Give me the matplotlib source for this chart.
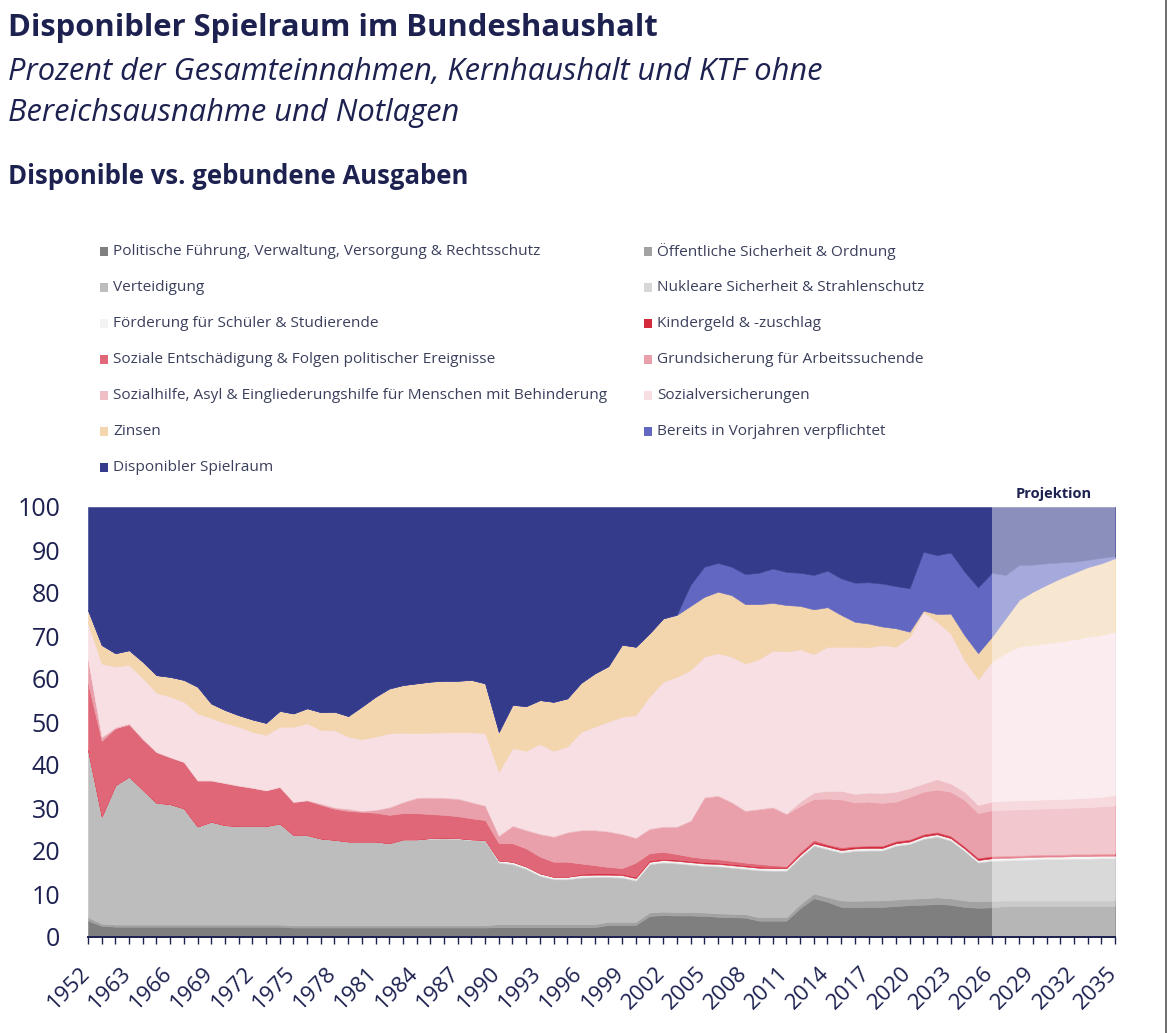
import matplotlib
matplotlib.use("Agg")
import matplotlib.pyplot as plt
import matplotlib.transforms as mtransforms
from matplotlib.patches import Rectangle
from matplotlib.lines import Line2D

plt.rcParams['font.family'] = ['Open Sans', 'DejaVu Sans']

W, H = 1170, 1033
NAVY = '#1d2150'

# categories (first three points: 1952 and two early years, then yearly)
years = ["1952", "1961", "1962"] + [str(y) for y in range(1963, 2036)]

# values in % of total revenue
pol = [3.8, 2.6, 2.4, 2.4, 2.4, 2.4, 2.4, 2.4, 2.4, 2.4,
       2.4, 2.4, 2.4, 2.4, 2.4, 2.2, 2.2, 2.2, 2.2, 2.2,
       2.2, 2.2, 2.2, 2.2, 2.2, 2.2, 2.2, 2.2, 2.2, 2.2,
       2.3, 2.3, 2.3, 2.3, 2.3, 2.3, 2.3, 2.3, 2.8, 2.8,
       2.8, 4.9, 5.1, 5.0, 5.0, 4.9, 4.7, 4.6, 4.5, 3.8,
       3.8, 3.8, 6.7, 9.0, 8.2, 7.0, 6.9, 7.0, 7.0, 7.2,
       7.4, 7.5, 7.7, 7.5, 7.0, 6.8, 6.9, 7.2, 7.2, 7.2,
       7.2, 7.2, 7.2, 7.2, 7.2, 7.2]
oeff = [0.8, 0.5, 0.5, 0.5, 0.5, 0.5, 0.5, 0.5, 0.5, 0.5,
        0.5, 0.5, 0.5, 0.5, 0.5, 0.5, 0.5, 0.5, 0.5, 0.5,
        0.5, 0.5, 0.5, 0.5, 0.5, 0.5, 0.5, 0.5, 0.5, 0.5,
        0.7, 0.7, 0.7, 0.7, 0.7, 0.7, 0.7, 0.7, 0.7, 0.7,
        0.7, 0.8, 0.8, 0.8, 0.8, 0.8, 0.8, 0.8, 0.8, 0.8,
        0.8, 0.8, 0.9, 1.1, 1.1, 1.5, 1.5, 1.5, 1.5, 1.5,
        1.5, 1.5, 1.5, 1.5, 1.5, 1.5, 1.5, 1.3, 1.3, 1.3,
        1.3, 1.3, 1.3, 1.3, 1.3, 1.3]
vert = [38.9, 24.9, 32.4, 34.4, 31.3, 28.3, 28.0, 27.0, 22.8, 23.9,
        23.1, 22.9, 22.9, 22.9, 23.5, 21.0, 21.0, 20.2, 19.9, 19.5,
        19.5, 19.5, 19.1, 20.0, 20.0, 20.1, 20.2, 20.1, 19.8, 19.7,
        14.3, 13.9, 12.8, 11.2, 10.4, 10.4, 10.8, 10.9, 10.4, 10.3,
        9.6, 11.2, 11.4, 11.3, 11.0, 10.8, 10.9, 10.7, 10.5, 10.9,
        10.8, 10.8, 10.9, 11.1, 11.1, 11.1, 11.6, 11.6, 11.6, 12.5,
        12.7, 13.8, 14.1, 13.4, 11.5, 9.0, 9.3, 9.3, 9.4, 9.5,
        9.6, 9.6, 9.7, 9.7, 9.8, 9.8]
nukl = [0.0, 0.0, 0.0, 0.0, 0.0, 0.0, 0.0, 0.0, 0.0, 0.0,
        0.0, 0.0, 0.0, 0.0, 0.0, 0.0, 0.0, 0.0, 0.0, 0.0,
        0.0, 0.0, 0.0, 0.0, 0.0, 0.2, 0.2, 0.2, 0.2, 0.2,
        0.2, 0.2, 0.2, 0.2, 0.2, 0.2, 0.2, 0.2, 0.2, 0.2,
        0.2, 0.2, 0.2, 0.2, 0.2, 0.2, 0.2, 0.2, 0.2, 0.2,
        0.2, 0.2, 0.2, 0.2, 0.2, 0.2, 0.2, 0.2, 0.2, 0.2,
        0.2, 0.2, 0.2, 0.2, 0.2, 0.2, 0.2, 0.2, 0.2, 0.2,
        0.2, 0.2, 0.2, 0.2, 0.2, 0.2]
foerd = [0.0, 0.0, 0.0, 0.0, 0.0, 0.0, 0.0, 0.0, 0.0, 0.0,
         0.0, 0.0, 0.0, 0.0, 0.0, 0.0, 0.0, 0.0, 0.0, 0.0,
         0.0, 0.0, 0.0, 0.0, 0.0, 0.0, 0.0, 0.0, 0.0, 0.0,
         0.3, 0.4, 0.4, 0.4, 0.4, 0.4, 0.4, 0.4, 0.4, 0.4,
         0.4, 0.4, 0.4, 0.4, 0.4, 0.4, 0.4, 0.4, 0.4, 0.4,
         0.4, 0.4, 0.4, 0.4, 0.4, 0.4, 0.4, 0.4, 0.4, 0.4,
         0.4, 0.4, 0.4, 0.4, 0.4, 0.4, 0.4, 0.4, 0.4, 0.4,
         0.4, 0.4, 0.4, 0.4, 0.4, 0.4]
kind = [0.0, 0.0, 0.0, 0.0, 0.0, 0.0, 0.0, 0.0, 0.0, 0.0,
        0.0, 0.0, 0.0, 0.0, 0.0, 0.0, 0.0, 0.0, 0.0, 0.0,
        0.0, 0.0, 0.0, 0.0, 0.0, 0.0, 0.0, 0.0, 0.0, 0.0,
        0.0, 0.0, 0.0, 0.0, 0.0, 0.0, 0.3, 0.3, 0.3, 0.3,
        0.3, 0.3, 0.3, 0.3, 0.3, 0.3, 0.3, 0.3, 0.3, 0.3,
        0.3, 0.3, 0.4, 0.4, 0.4, 0.4, 0.4, 0.4, 0.4, 0.4,
        0.4, 0.4, 0.4, 0.4, 0.4, 0.4, 0.4, 0.4, 0.4, 0.4,
        0.4, 0.4, 0.4, 0.4, 0.4, 0.4]
soz_ent = [15.5, 17.6, 13.3, 12.2, 11.8, 11.8, 10.9, 10.8, 10.7, 9.6,
           9.8, 9.4, 8.9, 8.3, 8.5, 7.7, 8.1, 7.8, 7.2, 7.1,
           6.9, 6.7, 6.6, 6.1, 6.1, 5.6, 5.3, 5.1, 4.9, 4.6,
           4.0, 4.3, 4.2, 3.9, 3.5, 3.5, 2.4, 1.9, 1.5, 1.3,
           3.3, 1.7, 1.6, 1.3, 1.0, 0.9, 0.8, 0.7, 0.6, 0.6,
           0.4, 0.2, 0.3, 0.4, 0.2, 0.3, 0.2, 0.2, 0.2, 0.2,
           0.2, 0.2, 0.2, 0.2, 0.2, 0.2, 0.2, 0.2, 0.2, 0.2,
           0.2, 0.2, 0.2, 0.2, 0.2, 0.2]
grund = [5.5, 0.8, 0.0, 0.0, 0.0, 0.0, 0.0, 0.0, 0.0, 0.0,
         0.0, 0.0, 0.0, 0.0, 0.0, 0.0, 0.0, 0.3, 0.3, 0.4,
         0.2, 0.6, 1.7, 2.5, 3.5, 3.8, 3.9, 4.0, 3.7, 3.3,
         1.7, 4.0, 4.2, 5.2, 5.8, 6.8, 7.7, 8.1, 8.2, 7.9,
         5.7, 5.6, 5.8, 6.3, 8.3, 14.1, 14.7, 13.6, 12.0, 12.7,
         13.4, 12.1, 10.7, 9.5, 10.6, 11.1, 10.1, 10.2, 9.9, 9.1,
         9.8, 9.8, 9.8, 10.2, 10.7, 10.3, 10.6, 10.6, 10.6, 10.6,
         10.6, 10.7, 10.7, 10.8, 10.9, 11.1]
sozhilfe = [0.2, 0.2, 0.3, 0.2, 0.2, 0.1, 0.1, 0.1, 0.1, 0.1,
            0.1, 0.1, 0.1, 0.1, 0.1, 0.1, 0.1, 0.1, 0.1, 0.2,
            0.1, 0.2, 0.2, 0.2, 0.2, 0.2, 0.2, 0.2, 0.2, 0.2,
            0.2, 0.2, 0.2, 0.2, 0.2, 0.2, 0.2, 0.2, 0.2, 0.2,
            0.2, 0.2, 0.2, 0.2, 0.2, 0.2, 0.2, 0.2, 0.2, 0.2,
            0.2, 0.2, 1.0, 1.5, 1.8, 2.0, 2.0, 2.1, 2.3, 2.3,
            2.0, 1.9, 2.4, 1.9, 1.9, 1.9, 2.0, 2.1, 2.1, 2.1,
            2.1, 2.1, 2.1, 2.2, 2.2, 2.4]
sozvers = [8.3, 17.0, 14.0, 13.6, 14.0, 13.7, 14.0, 13.9, 15.5, 14.4,
           13.9, 13.6, 12.9, 12.8, 13.9, 17.4, 17.8, 17.0, 17.9, 16.7,
           16.6, 16.9, 17.1, 16.0, 14.9, 14.9, 15.1, 15.3, 16.1, 16.7,
           14.7, 17.9, 18.3, 20.8, 19.8, 19.8, 22.7, 23.9, 25.4, 27.1,
           28.4, 30.6, 33.6, 34.7, 34.9, 32.6, 33.0, 33.7, 34.1, 34.7,
           36.3, 37.6, 35.4, 32.2, 33.5, 33.5, 34.2, 33.8, 34.4, 33.7,
           35.2, 39.9, 36.6, 34.9, 30.6, 29.2, 32.5, 34.3, 35.7, 36.0,
           36.3, 36.6, 37.0, 37.4, 37.6, 38.0]
zinsen = [3.0, 4.3, 3.1, 3.4, 3.8, 4.1, 4.6, 5.1, 6.2, 3.4,
          3.0, 2.7, 2.9, 2.8, 3.7, 3.1, 3.5, 4.2, 4.3, 4.8,
          7.6, 9.3, 10.4, 11.1, 11.6, 11.9, 12.0, 12.0, 12.2, 11.6,
          9.3, 10.1, 10.4, 10.2, 11.4, 11.2, 11.4, 12.4, 12.9, 16.8,
          15.9, 14.7, 14.7, 14.4, 14.9, 13.9, 14.3, 14.3, 13.8, 12.8,
          11.1, 10.8, 10.1, 10.4, 9.2, 7.4, 5.8, 5.5, 4.3, 4.3,
          1.2, 0.3, 1.8, 4.6, 5.8, 6.1, 5.8, 8.1, 10.9, 12.4,
          13.6, 14.7, 15.5, 16.2, 16.7, 17.1]
bereits = [0.0, 0.0, 0.0, 0.0, 0.0, 0.0, 0.0, 0.0, 0.0, 0.0,
           0.0, 0.0, 0.0, 0.0, 0.0, 0.0, 0.0, 0.0, 0.0, 0.0,
           0.0, 0.0, 0.0, 0.0, 0.0, 0.0, 0.0, 0.0, 0.0, 0.0,
           0.0, 0.0, 0.0, 0.0, 0.0, 0.0, 0.0, 0.0, 0.0, 0.0,
           0.0, 0.0, 0.0, 0.1, 4.9, 7.0, 6.7, 6.6, 7.0, 7.3,
           8.0, 7.7, 7.7, 8.0, 8.5, 8.5, 9.1, 9.6, 10.0, 9.8,
           10.1, 13.7, 13.7, 14.2, 14.8, 15.3, 14.9, 10.1, 8.1, 6.3,
           5.0, 3.7, 2.6, 1.7, 1.3, 0.5]
dispo = [24.0, 32.1, 34.0, 33.3, 36.0, 39.1, 39.5, 40.2, 41.8, 45.7,
         47.2, 48.4, 49.4, 50.2, 47.4, 48.0, 46.8, 47.7, 47.6, 48.6,
         46.4, 44.1, 42.2, 41.4, 41.0, 40.6, 40.4, 40.4, 40.2, 41.0,
         52.3, 46.0, 46.3, 44.9, 45.3, 44.5, 40.9, 38.7, 37.0, 32.0,
         32.5, 29.4, 25.9, 25.0, 18.1, 13.9, 13.0, 13.9, 15.6, 15.3,
         14.3, 15.1, 15.3, 15.8, 14.8, 16.6, 17.6, 17.5, 17.8, 18.4,
         18.9, 10.4, 11.2, 10.6, 15.0, 18.7, 15.3, 15.8, 13.5, 13.4,
         13.1, 12.9, 12.7, 12.3, 11.8, 11.4]

labels = [
    "Politische Führung, Verwaltung, Versorgung & Rechtsschutz",
    "Öffentliche Sicherheit & Ordnung",
    "Verteidigung",
    "Nukleare Sicherheit & Strahlenschutz",
    "Förderung für Schüler & Studierende",
    "Kindergeld & -zuschlag",
    "Soziale Entschädigung & Folgen politischer Ereignisse",
    "Grundsicherung für Arbeitssuchende",
    "Sozialhilfe, Asyl & Eingliederungshilfe für Menschen mit Behinderung",
    "Sozialversicherungen",
    "Zinsen",
    "Bereits in Vorjahren verpflichtet",
    "Disponibler Spielraum",
]
colors = ['#7f7f7f', '#a2a2a2', '#bdbdbd', '#d6d6d6', '#f3f3f3',
          '#d42a3c', '#e06777', '#e9a0aa', '#f0bfc6', '#f7dfe4',
          '#f3d5ae', '#6268c2', '#343b8a']
series = [pol, oeff, vert, nukl, foerd, kind, soz_ent, grund,
          sozhilfe, sozvers, zinsen, bereits, dispo]
proj_start = years.index("2026")

fig = plt.figure(figsize=(W / 100, H / 100), dpi=100)
ax = fig.add_axes([88 / W, 1 - 937 / H, (1115 - 88) / W, 430 / H])

x = list(range(len(years)))
polys = ax.stackplot(x, *series, colors=colors, linewidth=0.4)
for p, c in zip(polys, colors):
    p.set_edgecolor(c)

# projection: washed out
ax.axvspan(proj_start, len(years) - 1, facecolor='white', alpha=0.43,
           lw=0, zorder=3)

ax.set_xlim(0, len(years) - 1)
ax.set_ylim(0, 100)
ax.set_yticks(range(0, 101, 10))
ax.set_xticks(x)
ax.set_xticklabels([y if i % 3 == 0 else "" for i, y in enumerate(years)],
                   rotation=45, ha='right')
ax.tick_params(axis='y', length=0, pad=20, labelsize=18, labelcolor=NAVY)
ax.tick_params(axis='x', length=5, width=1, color=NAVY, pad=5,
               labelsize=16, labelcolor=NAVY)
# nudge the rotated year labels a bit right and down
shift = mtransforms.ScaledTranslation(6 / 100, -12 / 100, fig.dpi_scale_trans)
for lab in ax.get_xticklabels():
    lab.set_transform(lab.get_transform() + shift)
for s in ['top', 'right', 'left']:
    ax.spines[s].set_visible(False)
ax.spines['bottom'].set_color(NAVY)
ax.spines['bottom'].set_linewidth(1.4)
ax.spines['bottom'].set_zorder(5)

ax.text((proj_start + len(years) - 1) / 2, 101.5, "Projektion",
        ha='center', va='bottom', fontsize=10.5, fontweight='bold', color=NAVY)

# titles
fig.text(8 / W, 1 - 28 / H, "Disponibler Spielraum im Bundeshaushalt",
         fontsize=22.3, fontweight='bold', color=NAVY, va='center')
fig.text(8 / W, 1 - 72 / H,
         "Prozent der Gesamteinnahmen, Kernhaushalt und KTF ohne",
         fontsize=22.2, style='italic', color=NAVY, va='center')
fig.text(8 / W, 1 - 113 / H, "Bereichsausnahme und Notlagen",
         fontsize=22.2, style='italic', color=NAVY, va='center')
fig.text(8 / W, 1 - 176 / H, "Disponible vs. gebundene Ausgaben",
         fontsize=18.5, fontweight='bold', color=NAVY, va='center')

# legend, two columns, filled row by row
for k, (lab, col) in enumerate(zip(labels, colors)):
    row, c = divmod(k, 2)
    x0 = 100 if c == 0 else 644
    yc = 251 + row * 36.1
    fig.patches.append(Rectangle((x0 / W, 1 - (yc + 4.5) / H), 8 / W, 9 / H,
                                 transform=fig.transFigure, facecolor=col,
                                 edgecolor='none'))
    fig.text((x0 + 13) / W, 1 - yc / H, lab, fontsize=11.1,
             color='#3a3f5c', va='center')

# screenshot border on the right
fig.add_artist(Line2D([1166 / W, 1166 / W], [0, 1], color='#555555', lw=1.2))

fig.savefig("out.png", dpi=100)
